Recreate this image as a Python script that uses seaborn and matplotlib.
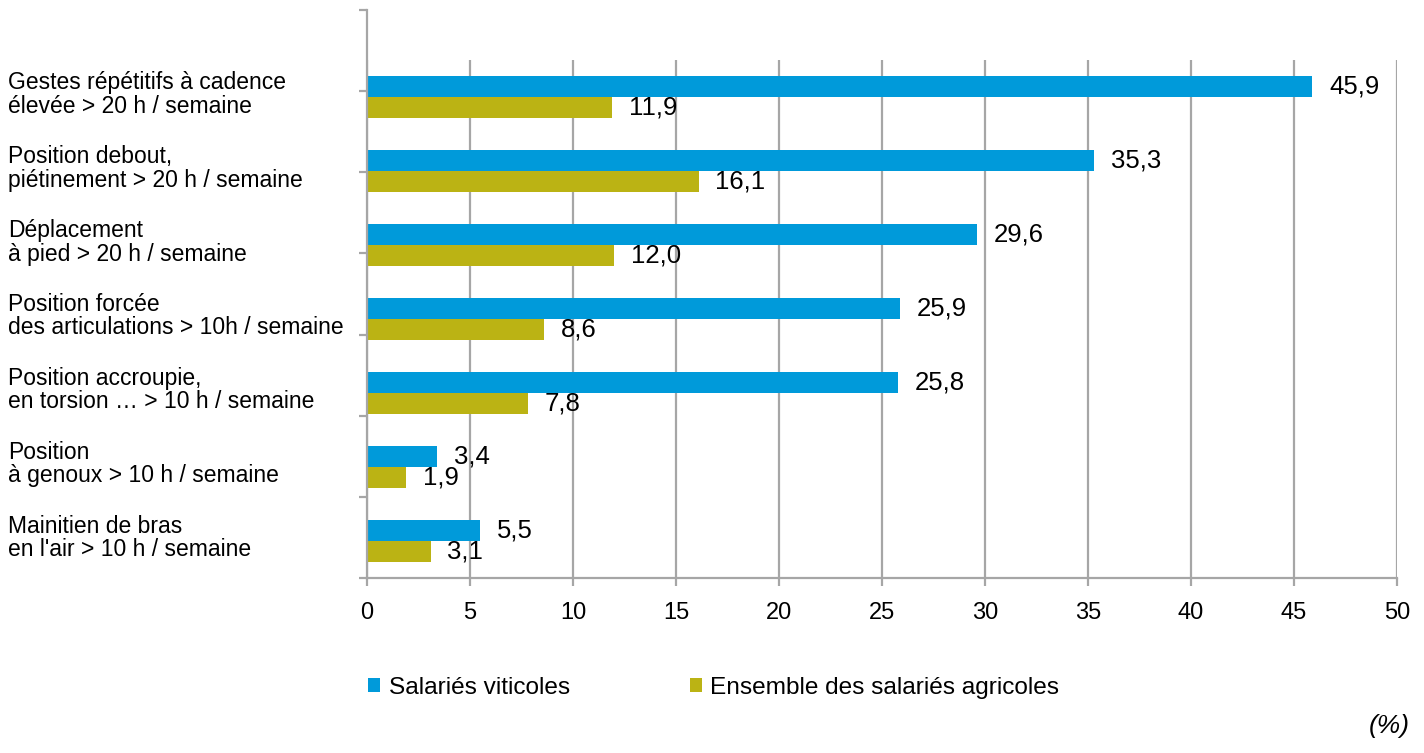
import matplotlib
matplotlib.use("Agg")
import matplotlib.pyplot as plt
import seaborn as sns
import pandas as pd

categories = [
    "Gestes répétitifs à cadence\nélevée > 20 h / semaine",
    "Position debout,\npiétinement > 20 h / semaine",
    "Déplacement\nà pied > 20 h / semaine",
    "Position forcée\ndes articulations > 10h / semaine",
    "Position accroupie,\nen torsion … > 10 h / semaine",
    "Position\nà genoux > 10 h / semaine",
    "Mainitien de bras\nen l'air > 10 h / semaine",
]
series_names = ["Salariés viticoles", "Ensemble des salariés agricoles"]
viticoles = [45.9, 35.3, 29.6, 25.9, 25.8, 3.4, 5.5]
agricoles = [11.9, 16.1, 12.0, 8.6, 7.8, 1.9, 3.1]
x_ticks = [0, 5, 10, 15, 20, 25, 30, 35, 40, 45, 50]
colors = ["#009ADA", "#BBB314"]

df = pd.DataFrame({
    "cat": categories * 2,
    "serie": [series_names[0]] * len(categories) + [series_names[1]] * len(categories),
    "val": viticoles + agricoles,
})

sns.set_style("white")
plt.rcParams["font.family"] = ["Liberation Sans", "DejaVu Sans"]
plt.rcParams["text.color"] = "black"
plt.rcParams["xtick.color"] = "black"

fig = plt.figure(figsize=(14.24, 7.53), dpi=100)
ax = fig.add_axes([0.2577, 0.2324, 0.7233, 0.6879])

sns.barplot(data=df, y="cat", x="val", hue="serie", order=categories,
            hue_order=series_names, palette=colors, orient="h",
            width=0.56, gap=0, dodge=True, saturation=1, linewidth=0,
            ax=ax, legend=True)

ax.set_xlim(0, 50)
ax.set_xticks(x_ticks)
ax.set_xticklabels([str(t) for t in x_ticks], fontsize=17)
ax.set_xlabel("")
ax.set_ylabel("")
ax.set_yticks([])
ax.grid(axis="x", color="#A6A6A6", linewidth=1.6)
ax.grid(axis="y", visible=False)
ax.set_axisbelow(True)
for s in ["top", "right", "left"]:
    ax.spines[s].set_visible(False)
ax.spines["bottom"].set_color("#A6A6A6")
ax.spines["bottom"].set_linewidth(1.6)
ax.tick_params(axis="x", direction="out", length=6, width=1.6, color="#A6A6A6",
               pad=11, labelcolor="black", bottom=True)

for cont in ax.containers:
    labels = [f"{v:.1f}".replace(".", ",") for v in cont.datavalues]
    ax.bar_label(cont, labels=labels, padding=12, fontsize=18.5, color="black")

# decorative category axis (left spine with category-boundary ticks)
ax2 = fig.add_axes([0.2577, 0.2324, 0.7233, 0.7543])
ax2.set_facecolor("none")
ax2.set_ylim(0, 7)
ax2.set_yticks(range(8))
ax2.set_yticklabels([])
ax2.set_xticks([])
for s in ["top", "right", "bottom"]:
    ax2.spines[s].set_visible(False)
ax2.spines["left"].set_color("#A6A6A6")
ax2.spines["left"].set_linewidth(1.6)
ax2.tick_params(axis="y", direction="out", length=6, width=1.6, color="#A6A6A6", left=True)

# category labels
for i, c in enumerate(categories):
    ax.text(-0.3485, i - 0.04, c, transform=ax.get_yaxis_transform(), ha="left", va="center",
            fontsize=16.5, linespacing=1.05, color="black")

handles, labels = ax.get_legend_handles_labels()
ax.get_legend().remove()
fig.legend(handles, labels, loc="center left", bbox_to_anchor=(368 / 1424, 0.0865), ncol=2,
           frameon=False, fontsize=17.6, handlelength=0.5, handleheight=0.5,
           handletextpad=0.35, columnspacing=4.9, borderpad=0, borderaxespad=0)

fig.text(0.99, 0.02, "(%)", ha="right", va="bottom", fontsize=19, style="italic")

fig.savefig("out.png", dpi=100)
